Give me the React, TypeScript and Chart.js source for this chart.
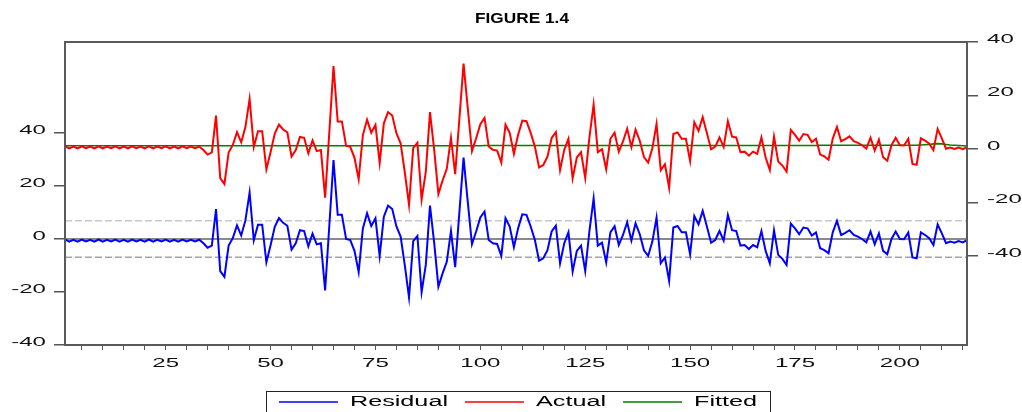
import React, { useEffect, useRef } from 'react';
import { Chart, registerables } from 'chart.js';

Chart.register(...registerables);

// ---- data -------------------------------------------------------------
const OBS = Array.from({ length: 216 }, (_, i) => i + 1);

const RESIDUAL = [
  -0.2, -1.0, -0.3, -1.0, -0.2, -0.9, -0.3, -1.0, -0.2, -1.0,
  -0.3, -0.9, -0.2, -1.0, -0.3, -1.0, -0.2, -0.9, -0.3, -1.0,
  -0.2, -1.0, -0.3, -0.9, -0.2, -1.0, -0.3, -1.0, -0.2, -0.9,
  -0.3, -0.9, -0.3, -1.6, -3.3, -2.5, 11.3, -12.1, -14.3, -2.5,
  0.3, 5.1, 1.3, 7.0, 17.5, -0.5, 5.4, 5.4, -8.8, -2.4,
  4.6, 7.9, 6.1, 5.0, -4.0, -1.6, 3.3, 3.0, -2.8, 2.0,
  -2.0, -1.6, -19.4, 5.0, 29.8, 9.1, 9.1, 0.0, -0.4, -4.5,
  -12.5, 4.0, 9.7, 4.9, 7.8, -6.4, 8.4, 12.6, 11.3, 4.7,
  0.9, -10.0, -22.1, -0.8, 1.1, -20.1, -9.8, 12.6, -1.5, -18.0,
  -13.0, -8.6, 3.0, -10.6, 10.0, 30.7, 14.1, -2.0, 2.8, 8.1,
  10.3, -0.4, -1.6, -1.9, -6.4, 7.8, 4.7, -3.1, 4.0, 9.3,
  9.1, 4.7, -0.4, -8.2, -7.3, -4.2, 2.8, 5.0, -9.2, -1.6,
  2.5, -12.3, -4.5, -2.5, -12.1, 3.0, 15.3, -2.5, -1.4, -8.9,
  2.5, 4.8, -2.3, 1.5, 6.3, -0.6, 5.9, 1.8, -4.3, -6.4,
  -1.0, 8.1, -9.2, -7.0, -15.8, 4.3, 4.9, 2.5, 2.5, -5.8,
  8.7, 5.5, 10.6, 4.7, -1.4, -0.4, 3.0, -0.6, 9.1, 3.3,
  3.0, -2.5, -2.3, -3.8, -2.3, -3.1, 3.0, -4.5, -9.2, 3.3,
  -6.0, -7.5, -9.8, 5.8, 4.0, 1.8, 4.3, 4.0, 1.3, 2.5,
  -3.5, -4.2, -5.4, 2.5, 6.8, 1.5, 2.3, 3.3, 1.5, 0.9,
  0.0, -1.3, 2.8, -2.0, 2.1, -4.5, -5.8, 0.0, 2.8, 0.0,
  -0.1, 2.4, -7.0, -7.3, 2.5, 1.5, 0.3, -2.3, 5.5, 2.1,
  -1.6, -1.0, -1.4, -0.8, -1.3, -0.4,
];

const ACTUAL = [
  1.0, 0.2, 0.9, 0.2, 1.0, 0.3, 0.9, 0.2, 1.0, 0.2,
  0.9, 0.3, 1.0, 0.2, 0.9, 0.2, 1.0, 0.3, 0.9, 0.2,
  1.0, 0.2, 0.9, 0.3, 1.0, 0.2, 0.9, 0.2, 1.0, 0.3,
  0.9, 0.3, 0.9, -0.4, -2.1, -1.3, 12.5, -10.9, -13.1, -1.3,
  1.5, 6.3, 2.5, 8.2, 18.7, 0.7, 6.6, 6.6, -7.6, -1.2,
  5.8, 9.1, 7.3, 6.2, -2.8, -0.4, 4.5, 4.2, -1.6, 3.2,
  -0.8, -0.4, -18.2, 6.2, 31.0, 10.3, 10.3, 1.2, 0.8, -3.3,
  -11.3, 5.2, 10.9, 6.1, 9.0, -5.2, 9.6, 13.8, 12.5, 5.9,
  2.1, -8.8, -20.9, 0.4, 2.3, -18.9, -8.6, 13.8, -0.3, -16.8,
  -11.8, -7.4, 4.2, -9.4, 11.2, 31.9, 15.3, -0.8, 4.0, 9.3,
  11.6, 0.9, -0.3, -0.6, -5.1, 9.1, 6.0, -1.8, 5.3, 10.6,
  10.4, 6.0, 0.9, -6.9, -6.0, -2.9, 4.1, 6.3, -7.9, -0.3,
  3.8, -11.0, -3.2, -1.2, -10.8, 4.3, 16.6, -1.2, -0.1, -7.6,
  3.8, 6.1, -1.0, 2.8, 7.6, 0.7, 7.2, 3.1, -3.0, -5.1,
  0.3, 9.4, -7.9, -5.7, -14.5, 5.6, 6.2, 3.8, 3.8, -4.5,
  10.0, 6.8, 11.9, 6.0, -0.1, 0.9, 4.3, 0.7, 10.4, 4.6,
  4.3, -1.2, -1.0, -2.5, -1.0, -1.8, 4.3, -3.2, -7.9, 4.6,
  -4.7, -6.2, -8.5, 7.1, 5.3, 3.1, 5.6, 5.3, 2.6, 3.8,
  -2.1, -2.8, -4.0, 3.9, 8.2, 2.9, 3.7, 4.7, 2.9, 2.3,
  1.4, 0.1, 4.2, -0.6, 3.5, -3.1, -4.4, 1.4, 4.2, 1.4,
  1.3, 3.8, -5.6, -5.9, 4.0, 3.1, 2.0, -0.4, 7.5, 4.0,
  0.1, 0.5, 0.0, 0.5, -0.1, 0.7,
];

const FITTED = [
  1.2, 1.2, 1.2, 1.2, 1.2, 1.2, 1.2, 1.2, 1.2, 1.2,
  1.2, 1.2, 1.2, 1.2, 1.2, 1.2, 1.2, 1.2, 1.2, 1.2,
  1.2, 1.2, 1.2, 1.2, 1.2, 1.2, 1.2, 1.2, 1.2, 1.2,
  1.2, 1.2, 1.2, 1.2, 1.2, 1.2, 1.2, 1.2, 1.2, 1.2,
  1.2, 1.2, 1.2, 1.2, 1.2, 1.2, 1.2, 1.2, 1.2, 1.2,
  1.2, 1.2, 1.2, 1.2, 1.2, 1.2, 1.2, 1.2, 1.2, 1.2,
  1.2, 1.2, 1.2, 1.2, 1.2, 1.2, 1.2, 1.2, 1.2, 1.2,
  1.2, 1.2, 1.2, 1.2, 1.2, 1.2, 1.2, 1.2, 1.2, 1.2,
  1.2, 1.2, 1.2, 1.2, 1.2, 1.2, 1.2, 1.2, 1.2, 1.2,
  1.2, 1.2, 1.2, 1.2, 1.2, 1.2, 1.2, 1.2, 1.2, 1.2,
  1.3, 1.3, 1.3, 1.3, 1.3, 1.3, 1.3, 1.3, 1.3, 1.3,
  1.3, 1.3, 1.3, 1.3, 1.3, 1.3, 1.3, 1.3, 1.3, 1.3,
  1.3, 1.3, 1.3, 1.3, 1.3, 1.3, 1.3, 1.3, 1.3, 1.3,
  1.3, 1.3, 1.3, 1.3, 1.3, 1.3, 1.3, 1.3, 1.3, 1.3,
  1.3, 1.3, 1.3, 1.3, 1.3, 1.3, 1.3, 1.3, 1.3, 1.3,
  1.3, 1.3, 1.3, 1.3, 1.3, 1.3, 1.3, 1.3, 1.3, 1.3,
  1.3, 1.3, 1.3, 1.3, 1.3, 1.3, 1.3, 1.3, 1.3, 1.3,
  1.3, 1.3, 1.3, 1.3, 1.3, 1.3, 1.3, 1.3, 1.3, 1.3,
  1.4, 1.4, 1.4, 1.4, 1.4, 1.4, 1.4, 1.4, 1.4, 1.4,
  1.4, 1.4, 1.4, 1.4, 1.4, 1.4, 1.4, 1.4, 1.4, 1.4,
  1.4, 1.4, 1.4, 1.4, 1.5, 1.6, 1.7, 1.9, 2.0, 1.9,
  1.7, 1.5, 1.4, 1.3, 1.2, 1.1,
];

const RESID_SE = 6.9;
const LEFT_TICKS = [-40, -20, 0, 20, 40];
const RIGHT_TICKS = [-40, -20, 0, 20, 40];
const X_LABEL_TICKS = [25, 50, 75, 100, 125, 150, 175, 200];
const X_MINOR_TICKS = [5, 10, 15, 20, 25, 30, 35, 40, 45, 50, 55, 60, 65, 70, 75, 80, 85, 90, 95, 100,
  105, 110, 115, 120, 125, 130, 135, 140, 145, 150, 155, 160, 165, 170, 175, 180, 185, 190, 195, 200,
  205, 210, 215];
const TITLE = 'FIGURE 1.4';
const SERIES_LABELS = ['Residual', 'Actual', 'Fitted'];
const SERIES_COLORS = ['#0000ff', '#ff0000', '#008000'];

// ---- helpers ----------------------------------------------------------
const FONT = '"Liberation Sans", Arial, sans-serif';
const STRETCH = 1.85;

function stretchedText(ctx: CanvasRenderingContext2D, text: string, x: number, y: number,
  align: CanvasTextAlign, sx: number) {
  ctx.save();
  ctx.translate(x, y);
  ctx.scale(sx, 1);
  ctx.textAlign = align;
  ctx.textBaseline = 'middle';
  ctx.fillText(text, 0, 0);
  ctx.restore();
}

const refLinesPlugin = {
  id: 'refLines',
  beforeDatasetsDraw(chart: any) {
    const { ctx, chartArea } = chart;
    const yL = chart.scales.yL;
    const lines = [
      { v: RESID_SE, color: '#c8c8c8', dash: [7, 3], w: 1.5 },
      { v: -RESID_SE, color: '#a4a4a4', dash: [7, 3], w: 1.5 },
      { v: 0, color: '#8a8a8a', dash: [], w: 2 },
    ];
    ctx.save();
    lines.forEach((l) => {
      const y = yL.getPixelForValue(l.v);
      ctx.beginPath();
      ctx.setLineDash(l.dash);
      ctx.strokeStyle = l.color;
      ctx.lineWidth = l.w;
      ctx.moveTo(chartArea.left, y);
      ctx.lineTo(chartArea.right, y);
      ctx.stroke();
    });
    ctx.restore();
  },
};

const decorPlugin = {
  id: 'decor',
  afterDraw(chart: any) {
    const { ctx, chartArea } = chart;
    const { x, yL, yR } = chart.scales;
    ctx.save();
    // frame
    ctx.strokeStyle = '#5a5a5a';
    ctx.lineWidth = 2;
    ctx.strokeRect(chartArea.left, chartArea.top, chartArea.right - chartArea.left, chartArea.bottom - chartArea.top);

    // axis labels
    ctx.fillStyle = '#111';
    ctx.font = '13px ' + FONT;
    LEFT_TICKS.forEach((v) => {
      stretchedText(ctx, String(v), chartArea.left - 19, yL.getPixelForValue(v) - 2.5, 'right', STRETCH);
    });
    RIGHT_TICKS.forEach((v) => {
      stretchedText(ctx, String(v), chartArea.right + 20, yR.getPixelForValue(v) - 3, 'left', STRETCH);
    });
    X_LABEL_TICKS.forEach((v) => {
      stretchedText(ctx, String(v), x.getPixelForValue(v), chartArea.bottom + 18, 'center', STRETCH);
    });

    // title
    ctx.fillStyle = '#000';
    ctx.font = 'bold 15px ' + FONT;
    stretchedText(ctx, TITLE, 522, 19, 'center', 1.15);

    // legend
    ctx.font = '14px ' + FONT;
    const sx = 1.8;
    const lineLen = 59, gapText = 12, gapItem = 17, pad = 13;
    const items = chart.data.datasets.map((d: any) => ({ label: d.label, color: d.borderColor }));
    const widths = items.map((it: any) => ctx.measureText(it.label).width * sx);
    let total = 2 * pad + gapItem * (items.length - 1);
    widths.forEach((w: number) => { total += lineLen + gapText + w; });
    const left = 518 - total / 2;
    const top = 391;
    const cy = 402;
    ctx.strokeStyle = '#222';
    ctx.lineWidth = 1;
    ctx.strokeRect(Math.round(left) + 0.5, top + 0.5, Math.round(total), 40);
    let cx = left + pad;
    items.forEach((it: any, i: number) => {
      ctx.beginPath();
      ctx.strokeStyle = it.color;
      ctx.lineWidth = 1.5;
      ctx.moveTo(cx, cy);
      ctx.lineTo(cx + lineLen, cy);
      ctx.stroke();
      cx += lineLen + gapText;
      ctx.fillStyle = '#000';
      stretchedText(ctx, it.label, cx, cy, 'left', sx);
      cx += widths[i] + gapItem;
    });
    ctx.restore();
  },
};

export default function App() {
  const ref = useRef<HTMLCanvasElement | null>(null);

  useEffect(() => {
    if (!ref.current) return;
    const series = [RESIDUAL, ACTUAL, FITTED];
    const axes = ['yL', 'yR', 'yR'];
    const widths = [2, 2, 1.6];
    const orders = [1, 2, 3];
    const chart = new Chart(ref.current, {
      type: 'line',
      data: {
        datasets: series.map((s, k) => ({
          label: SERIES_LABELS[k],
          data: OBS.map((o, i) => ({ x: o, y: s[i] })),
          yAxisID: axes[k],
          borderColor: SERIES_COLORS[k],
          backgroundColor: SERIES_COLORS[k],
          borderWidth: widths[k],
          pointRadius: 0,
          tension: 0,
          fill: false,
          order: orders[k],
        })),
      },
      options: {
        animation: false,
        responsive: false,
        maintainAspectRatio: false,
        layout: { padding: { top: 42, left: 0, right: 0, bottom: 0 } },
        plugins: {
          legend: { display: false },
          tooltip: { enabled: false },
          title: { display: false },
        },
        scales: {
          x: {
            type: 'linear',
            min: 1,
            max: 216,
            border: { display: false },
            grid: { drawOnChartArea: false, drawTicks: true, tickLength: 5, color: '#555', tickColor: '#555', lineWidth: 1 },
            ticks: { display: false },
            afterBuildTicks: (s: any) => { s.ticks = X_MINOR_TICKS.map((v) => ({ value: v })); },
            afterFit: (s: any) => { s.height = 67; },
          },
          yL: {
            type: 'linear',
            position: 'left',
            min: -40,
            max: 74.3,
            border: { display: false },
            grid: { drawOnChartArea: false, drawTicks: true, tickLength: 11, color: '#555', tickColor: '#555', lineWidth: 1.5 },
            ticks: { display: false },
            afterBuildTicks: (s: any) => { s.ticks = LEFT_TICKS.map((v) => ({ value: v })); },
            afterFit: (s: any) => { s.width = 65; },
          },
          yR: {
            type: 'linear',
            position: 'right',
            min: -73.3,
            max: 40,
            border: { display: false },
            grid: { drawOnChartArea: false, drawTicks: true, tickLength: 11, color: '#555', tickColor: '#555', lineWidth: 1.5 },
            ticks: { display: false },
            afterBuildTicks: (s: any) => { s.ticks = RIGHT_TICKS.map((v) => ({ value: v })); },
            afterFit: (s: any) => { s.width = 55; },
          },
        },
      } as any,
      plugins: [refLinesPlugin, decorPlugin],
    });
    return () => chart.destroy();
  }, []);

  return (
    <div style={{ position: 'fixed', left: 0, top: 0, width: 1022, height: 412, background: '#fff' }}>
      <canvas ref={ref} width={1022} height={412} style={{ width: 1022, height: 412, display: 'block' }} />
    </div>
  );
}
